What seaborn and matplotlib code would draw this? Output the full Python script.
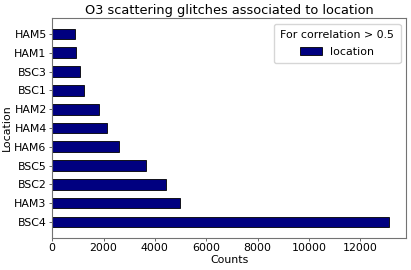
import matplotlib
matplotlib.use('Agg')
import matplotlib.pyplot as plt
import seaborn as sns
import pandas as pd

locations = ['HAM5', 'HAM1', 'BSC3', 'BSC1', 'HAM2', 'HAM4', 'HAM6', 'BSC5', 'BSC2', 'HAM3', 'BSC4']
counts = [890, 935, 1090, 1220, 1805, 2130, 2610, 3660, 4440, 4990, 13130]

df = pd.DataFrame({'Location': locations, 'Counts': counts})

sns.set_style('ticks')
plt.rcParams['axes.edgecolor'] = '0.45'
plt.rcParams['axes.linewidth'] = 0.8
plt.rcParams['text.color'] = 'black'
plt.rcParams['axes.labelcolor'] = 'black'
plt.rcParams['xtick.color'] = '0.3'
plt.rcParams['ytick.color'] = '0.3'
plt.rcParams['xtick.labelcolor'] = 'black'
plt.rcParams['ytick.labelcolor'] = 'black'

fig, ax = plt.subplots(figsize=(4.11, 2.7), dpi=100)
sns.barplot(data=df, x='Counts', y='Location', color='navy', saturation=1,
            edgecolor='black', linewidth=0.6, width=0.57, label='location', ax=ax)

ax.set_xlim(0, max(counts) * 1.05)
ax.set_ylim(10.85, -0.85)
ax.set_title('O3 scattering glitches associated to location', fontsize=9.3, pad=3)
ax.set_xlabel('Counts', fontsize=7.9, labelpad=1)
ax.set_ylabel('Location', fontsize=7.9, labelpad=2)
ax.tick_params(labelsize=7.9, length=2.5, width=0.6, pad=1.5)
ax.legend(title='For correlation > 0.5', fontsize=7.9, title_fontsize=7.9, loc='upper right',
          borderpad=0.6, labelspacing=0.6, handleheight=0.8)

fig.subplots_adjust(left=0.127, right=0.988, bottom=0.119, top=0.933)
fig.savefig('out.png', dpi=100)
